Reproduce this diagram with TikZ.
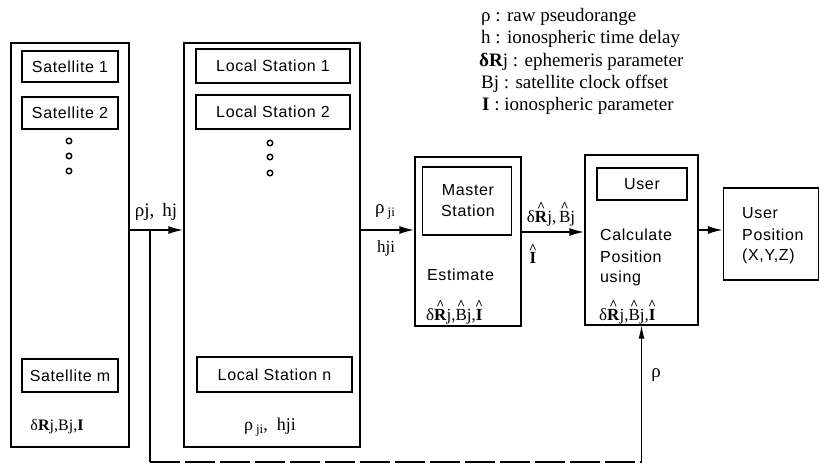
\documentclass[tikz,border=0pt]{standalone}
\usepackage{fontspec}
\setmainfont{Liberation Sans}
\newfontfamily\serif{Liberation Serif}
\usetikzlibrary{arrows.meta}
\newcommand\hh[1]{\leavevmode\setbox0\hbox{#1}\rlap{\hbox to\wd0{\hss\raisebox{0.62em}{\fontsize{14}{14}\selectfont\bfseries\textasciicircum}\hss}}#1}
\newcommand\sbs[1]{\raisebox{-0.15em}{\fontsize{13}{13}\selectfont #1}}
\tikzset{
  outer/.style={draw, line width=1.1pt, inner sep=0pt},
  boxfont/.style={font=\fontsize{16}{19}\selectfont\addfontfeature{LetterSpace=4}},
  inner/.style={draw, line width=1.1pt, inner sep=0pt, boxfont},
  lab/.style={inner sep=0pt, boxfont},
  lbl/.style={anchor=west, inner sep=0pt, boxfont},
  math/.style={inner sep=0pt, font=\serif\fontsize{17}{20}\selectfont},
  legend/.style={anchor=west, inner sep=0pt, font=\serif\fontsize{19}{22}\selectfont},
  bigarrow/.style={line width=2pt, -{Latex[length=15pt,width=8pt]}},
  thinarrow/.style={line width=1.1pt, -{Latex[length=13pt,width=6pt]}},
  dotc/.style={circle, draw, line width=1.4pt, minimum size=5.5pt, inner sep=0pt},
}
\begin{document}
\begin{tikzpicture}[x=1pt, y=-1pt]
\useasboundingbox (0,0) rectangle (820,466);

% legend
\node[legend] (l1) at (481,17) {ρ : raw  pseudorange};
\node[legend] (l2) at (481,39) {h : ionospheric time delay};
\node[legend] (l3) at (479,62) {\textbf{δR}j : ephemeris parameter};
\node[legend] (l4) at (481,84) {Bj : satellite clock offset};
\node[legend] (l5) at (482,106) {\textbf{I} : ionospheric parameter};

% satellites
\node[outer, minimum width=118pt, minimum height=404pt] (sat) at (70,245) {};
\node[inner, minimum width=96pt, minimum height=31pt] (s1) at (70,66.5) {Satellite 1};
\node[inner, minimum width=96pt, minimum height=32pt] (s2) at (70,113) {Satellite 2};
\node[inner, minimum width=96pt, minimum height=33pt] (sm) at (70,375.5) {Satellite m};
\node[dotc] (sd1) at (69,141) {};
\node[dotc] (sd2) at (69,156) {};
\node[dotc] (sd3) at (69,171) {};
\node[math, font=\serif\fontsize{16}{19}\selectfont] (sattxt) at (57,427) {δ\textbf{R}j,Bj,\textbf{I}};

% local stations
\node[outer, minimum width=176pt, minimum height=404pt] (loc) at (272,245) {};
\node[inner, minimum width=154pt, minimum height=34pt] (ls1) at (273,66) {Local Station 1};
\node[inner, minimum width=154pt, minimum height=34pt] (ls2) at (273,112) {Local Station 2};
\node[inner, minimum width=155pt, minimum height=35pt] (lsn) at (274.5,374.5) {Local Station n};
\node[dotc] (ld1) at (270,143) {};
\node[dotc] (ld2) at (270,157) {};
\node[dotc] (ld3) at (270,173) {};
\node[math, font=\serif\fontsize{18}{20}\selectfont] (loctxt) at (270,427) {ρ\,\sbs{ji},\ \ hji};

% master station
\node[outer, minimum width=106pt, minimum height=169pt] (mas) at (468,241.5) {};
\node[draw, line width=1.1pt, inner sep=0pt, minimum width=89pt, minimum height=68pt] (masin) at (467,201) {};
\node[lab] (mt1) at (468,190) {Master};
\node[lab] (mt2) at (468,211) {Station};
\node[lbl] (est) at (427,275) {Estimate};
\node[math, anchor=west] (estf) at (426,312) {δ\hh{\textbf{R}}j,\hh{B}j,\hh{\textbf{I}}};

% user / calculate
\node[outer, minimum width=113pt, minimum height=170pt] (calc) at (641.5,240) {};
\node[inner, minimum width=90pt, minimum height=32pt] (usr) at (642,184) {User};
\node[lbl] (c1) at (600,235) {Calculate};
\node[lbl] (c2) at (600,257) {Position};
\node[lbl] (c3) at (600,278) {using};
\node[math, anchor=west] (cf) at (599,312) {δ\hh{\textbf{R}}j,\hh{B}j,\hh{\textbf{I}}};

% output
\node[outer, minimum width=95pt, minimum height=92pt] (out) at (771,234) {};
\node[lbl] (o1) at (742,213) {User};
\node[lbl] (o2) at (742,235) {Position};
\node[lbl] (o3) at (742,256) {(X,Y,Z)};

% connectors
\coordinate (r1) at (0,230);
\coordinate (r3) at (0,232);
\draw[bigarrow] (sat.east |- r1) -- (loc.west |- r1);
\draw[bigarrow] (loc.east |- r1) -- (mas.west |- r1);
\draw[bigarrow] (mas.east |- r3) -- (calc.west |- r3);
\draw[bigarrow] (calc.east |- r1) -- (out.west |- r1);

\node[math, font=\serif\fontsize{19}{20}\selectfont] (a1) at (156,212) {ρj,\,\ hj};
\node[math, font=\serif\fontsize{19}{20}\selectfont] (a2) at (385,212) {ρ\,\sbs{ji}};
\node[math] (a2b) at (386,248) {hji};
\node[math] (a3) at (551,214) {δ\hh{\textbf{R}}j,\,\hh{B}j};
\node[math] (a3b) at (533,254) {\hh{\textbf{I}}};

% feedback
\coordinate (fbt) at (150,230);
\coordinate (fbb) at (150,462);
\coordinate (fbr) at (calc.south |- fbb);
\draw[line width=1.1pt] (fbt) -- (fbb);
\draw[line width=1.1pt, dash pattern=on 30pt off 5pt] (fbb) -- (fbr);
\draw[thinarrow] (fbr) -- (calc.south);
\node[math, font=\serif\fontsize{19}{20}\selectfont] (rho) at (656,375) {ρ};
\end{tikzpicture}
\end{document}
